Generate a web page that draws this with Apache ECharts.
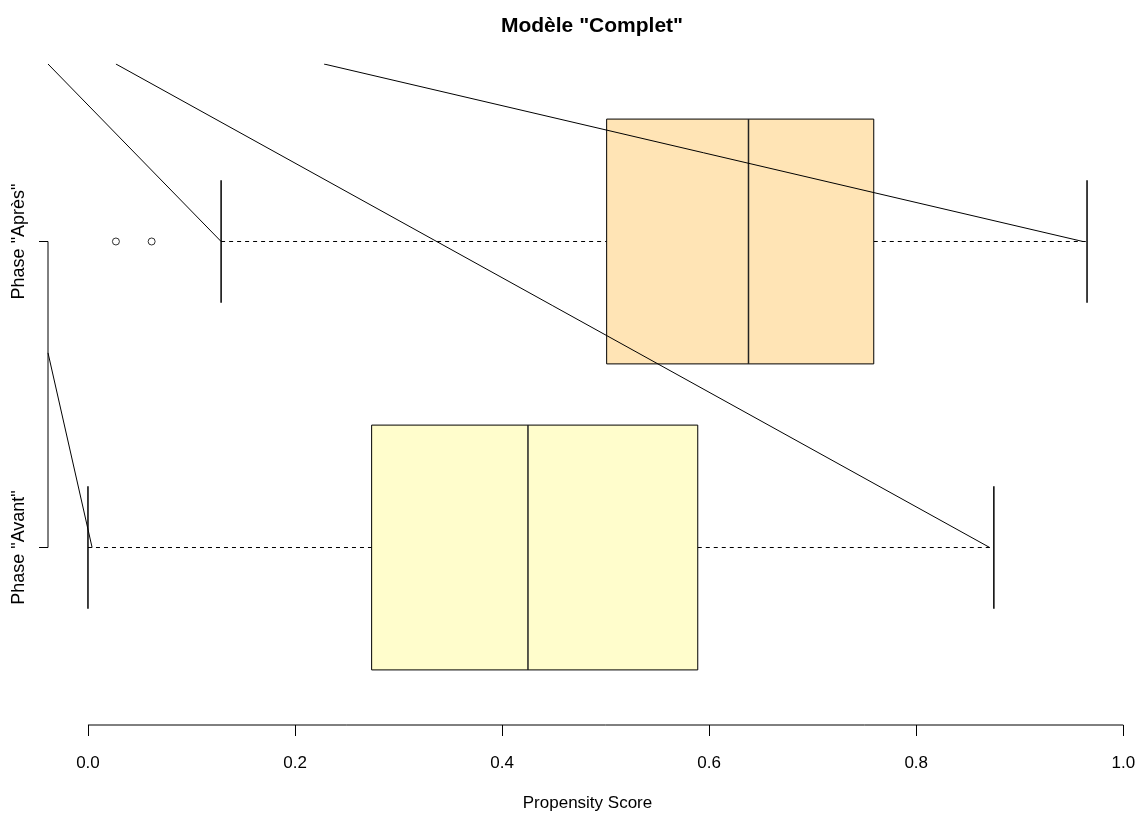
<!DOCTYPE html>
<html>
<head>
<meta charset="utf-8">
<script src="https://cdn.jsdelivr.net/npm/echarts@6/dist/echarts.min.js"></script>
<style>
  html, body { margin: 0; padding: 0; background: #fff; }
  #chart { width: 1137px; height: 814px; }
</style>
</head>
<body>
<div id="chart"></div>
<script>
// groups, bottom to top (y position 1 and 2)
const groupNames = ['Phase "Avant"', 'Phase "Après"'];
const groupPos = [1, 2];
// five-number summaries: lower whisker, Q1, median, Q3, upper whisker
const avantStats = [0.0, 0.274, 0.425, 0.589, 0.875];
const apresStats = [0.1286, 0.501, 0.638, 0.759, 0.965];
// outliers of Phase "Après"
const apresOutliers = [0.027, 0.0615];
const xTicks = [0, 0.2, 0.4, 0.6, 0.8, 1.0];

// extra segments drawn on top of the plot: [[x0, y0], [x1, y1]]
const segA = [[-0.0386, 2.58], [0.1286, 2]];
const segB = [[0.027, 2.58], [0.871, 1]];
const segC = [[0.228, 2.58], [0.961, 2]];
const segD = [[-0.0386, 1.636], [0.004, 1]];

// plot region limits (R: data range + 4%)
const xMin = -0.0386, xMax = 1.0036;
const yMin = 0.42, yMax = 2.58;

const boxFill = ['#FFFDCC', '#FFE4B5'];
const font = '"Liberation Sans", Arial, sans-serif';

const boxData = [
  [groupPos[0]].concat(avantStats),
  [groupPos[1]].concat(apresStats)
];

function renderBox(params, api) {
  const pos = api.value(0);
  const lo = api.value(1), q1 = api.value(2), med = api.value(3), q3 = api.value(4), hi = api.value(5);
  const half = 0.4, staple = 0.2;
  const pLo = api.coord([lo, pos]);
  const pQ1 = api.coord([q1, pos]);
  const pMed = api.coord([med, pos]);
  const pQ3 = api.coord([q3, pos]);
  const pHi = api.coord([hi, pos]);
  const top = api.coord([q1, pos + half])[1];
  const bot = api.coord([q1, pos - half])[1];
  const sTop = api.coord([lo, pos + staple])[1];
  const sBot = api.coord([lo, pos - staple])[1];
  const dash = { stroke: '#000', lineWidth: 1, lineDash: [4, 4], fill: null };
  const solid = { stroke: '#000', lineWidth: 1.5 };
  return {
    type: 'group',
    children: [
      { type: 'line', shape: { x1: pLo[0], y1: pLo[1], x2: pQ1[0], y2: pQ1[1] }, style: dash },
      { type: 'line', shape: { x1: pQ3[0], y1: pQ3[1], x2: pHi[0], y2: pHi[1] }, style: dash },
      { type: 'line', shape: { x1: pLo[0], y1: sTop, x2: pLo[0], y2: sBot }, style: solid },
      { type: 'line', shape: { x1: pHi[0], y1: sTop, x2: pHi[0], y2: sBot }, style: solid },
      {
        type: 'rect',
        shape: { x: pQ1[0], y: top, width: pQ3[0] - pQ1[0], height: bot - top },
        style: { fill: boxFill[params.dataIndex], stroke: '#000', lineWidth: 1 }
      },
      { type: 'line', shape: { x1: pMed[0], y1: top, x2: pMed[0], y2: bot }, style: { stroke: '#222', lineWidth: 1.5 } }
    ]
  };
}

function segSeries(seg) {
  return {
    type: 'line',
    data: seg,
    symbol: 'none',
    silent: true,
    animation: false,
    lineStyle: { color: '#000', width: 1 },
    z: 5
  };
}

const chart = echarts.init(document.getElementById('chart'), null, { renderer: 'canvas' });
chart.setOption({
  animation: false,
  backgroundColor: '#fff',
  title: {
    text: 'Modèle "Complet"',
    left: 587,
    top: 11,
    textAlign: 'center',
    textStyle: { fontFamily: font, fontSize: 21, fontWeight: 'bold', color: '#000' }
  },
  grid: { left: 48, right: 10, top: 64, bottom: 89, containLabel: false, outerBoundsMode: 'none' },
  xAxis: {
    type: 'value',
    min: xMin,
    max: xMax,
    name: 'Propensity Score',
    nameLocation: 'middle',
    nameGap: 70,
    nameTextStyle: { fontFamily: font, fontSize: 17, color: '#000' },
    axisLine: { show: false, onZero: false },
    axisTick: { show: true, length: 11, customValues: xTicks, lineStyle: { color: '#000' } },
    axisLabel: {
      customValues: xTicks,
      margin: 30,
      fontFamily: font,
      fontSize: 17,
      color: '#000',
      formatter: v => v.toFixed(1)
    },
    splitLine: { show: false }
  },
  yAxis: {
    type: 'value',
    min: yMin,
    max: yMax,
    axisLine: { show: false, onZero: false },
    axisTick: { show: true, length: 9, customValues: groupPos, lineStyle: { color: '#000' } },
    axisLabel: {
      customValues: groupPos,
      rotate: 90,
      margin: 20,
      fontFamily: font,
      fontSize: 18,
      color: '#000',
      formatter: v => groupNames[groupPos.indexOf(v)]
    },
    splitLine: { show: false }
  },
  series: [
    {
      type: 'custom',
      renderItem: renderBox,
      data: boxData,
      encode: { x: [1, 2, 3, 4, 5], y: 0 },
      clip: false,
      silent: true,
      z: 2
    },
    {
      type: 'scatter',
      data: apresOutliers.map(v => [v, groupPos[1]]),
      symbol: 'circle',
      symbolSize: 7,
      itemStyle: { color: '#fff', borderColor: '#000', borderWidth: 1 },
      silent: true,
      z: 3
    },
    // axis lines in R style: only between the first and last tick
    {
      type: 'line',
      data: [[xTicks[0], yMin], [xTicks[xTicks.length - 1], yMin]],
      symbol: 'none',
      clip: false,
      silent: true,
      lineStyle: { color: '#000', width: 1 }
    },
    {
      type: 'line',
      data: [[xMin, groupPos[0]], [xMin, groupPos[1]]],
      symbol: 'none',
      clip: false,
      silent: true,
      lineStyle: { color: '#000', width: 1 }
    },
    segSeries(segA),
    segSeries(segB),
    segSeries(segC),
    segSeries(segD)
  ]
});
</script>
</body>
</html>
